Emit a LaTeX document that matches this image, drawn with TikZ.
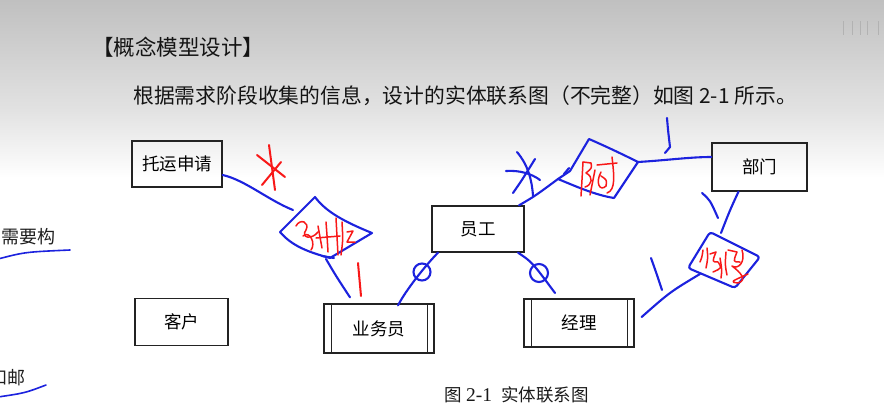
\documentclass[tikz,border=0pt]{standalone}
\usepackage{fontspec}
\setmainfont{Liberation Serif}
\newfontfamily\cjk{Noto Sans CJK SC}
\usetikzlibrary{calc}
\definecolor{bluepencol}{RGB}{28,34,222}
\definecolor{redpencol}{RGB}{248,24,24}
\definecolor{boxcol}{RGB}{35,35,35}
\tikzset{
  ent/.style={draw=boxcol, line width=1.3pt, inner sep=0pt,
    font=\cjk\fontsize{17.5}{20}\selectfont},
  boxline/.style={draw=boxcol, line width=1.3pt},
  bluepen/.style={draw=bluepencol, line width=2.1pt, line cap=round, line join=round},
  redpen/.style={draw=redpencol, line width=1.5pt, line cap=round, line join=round},
}
\begin{document}
\begin{tikzpicture}[x=1pt,y=-1pt]
\useasboundingbox (0,0) rectangle (884,405);
% background
\fill[white] (0,0) rectangle (884,405);
\shade[top color={rgb,255:red,192;green,192;blue,192}, bottom color={rgb,255:red,226;green,226;blue,226}] (0,0) rectangle (884,110);
\shade[top color={rgb,255:red,226;green,226;blue,226}, bottom color=white] (0,110) rectangle (884,178);
% faint marks top right
\foreach \xx in {843,852,860,867,878}
  \draw[draw={rgb,255:red,178;green,178;blue,178}, line width=0.8pt] (\xx,21) -- (\xx,35);

% texts
\node[anchor=west, inner sep=0pt, text={rgb,255:red,20;green,20;blue,20}, font=\cjk\fontsize{21.5}{24}\selectfont] (title) at (92,47) {【概念模型设计】};
\node[anchor=west, inner sep=0pt, text={rgb,255:red,20;green,20;blue,20}, font=\cjk\fontsize{20.8}{24}\selectfont] (body) at (133,96) {根据需求阶段收集的信息，设计的实体联系图（不完整）如图 2-1 所示。};
\node[anchor=west, inner sep=0pt, text={rgb,255:red,25;green,25;blue,25}, font=\cjk\fontsize{17.5}{20}\selectfont] (cap) at (444,395) {图\hspace{4.5pt}{\rmfamily\fontsize{19.5}{20}\selectfont 2-1}\hspace{9pt}实体联系图};
\node[anchor=east, inner sep=0pt, text={rgb,255:red,30;green,30;blue,30}, font=\cjk\fontsize{18}{20}\selectfont] (lt1) at (56,237) {需要构};
\node[anchor=east, inner sep=0pt, text={rgb,255:red,30;green,30;blue,30}, font=\cjk\fontsize{18}{20}\selectfont] (lt2) at (26,378) {和邮};
\draw[bluepen, line width=1.6pt] (-2,259) .. controls (25,252) .. (70,250);
\draw[bluepen, line width=1.6pt] (-2,397) .. controls (25,393) .. (46,385);

% entity boxes
\node[ent, minimum width=90pt, minimum height=46pt] (tuoyun) at (177,164) {托运申请};
\node[ent, minimum width=93pt, minimum height=47pt] (kehu) at (181.5,322) {客户};
\node[ent, minimum width=110pt, minimum height=49pt] (yewu) at (379,328.5) {业务员};
\node[ent, minimum width=110pt, minimum height=48pt] (jingli) at (579,323) {经理};
\node[ent, minimum width=92pt, minimum height=46pt] (yuangong) at (478,229) {员工};
\node[ent, minimum width=95pt, minimum height=48pt] (bumen) at (759.5,167) {部门};
\foreach \n in {yewu,jingli}{
  \draw[boxline] ([xshift=8pt]\n.north west) -- ([xshift=8pt]\n.south west);
  \draw[boxline] ([xshift=-7pt]\n.north east) -- ([xshift=-7pt]\n.south east);
}

% diamond coordinates
\coordinate (d1l) at (280,232); \coordinate (d1t) at (315,197);
\coordinate (d1r) at (372,233); \coordinate (d1b) at (330,258);
\coordinate (d2l) at (558,179); \coordinate (d2t) at (589,139);
\coordinate (d2r) at (638,162); \coordinate (d2b) at (614,198);
\coordinate (d3t) at (710,232); \coordinate (d3r) at (760,257);
\coordinate (d3b) at (735,288); \coordinate (d3l) at (688,268);

% diamond 1
\draw[bluepen] (d1l) -- (d1t) .. controls (326,212) and (345,222) .. (d1r) -- (d1b)
  .. controls (308,252) and (292,246) .. cycle;
\draw[bluepen] ([yshift=-11pt]tuoyun.east) .. controls (245,180) and (268,200) .. (293,210);
\draw[bluepen] (322,256) -- (334,258);
\draw[bluepen] (326,259) .. controls (336,276) .. ([xshift=-29pt,yshift=6pt]yewu.north);
\draw[redpen, line width=2pt] (358,263) .. controls (360,280) .. (361,296);
% red asterisk
\draw[redpen, line width=2pt] (257,155) -- (285,177);
\draw[redpen, line width=2pt] (269,145) -- (275,190);
\draw[redpen, line width=2pt] (262,185) -- (281,162);
% red scribble 1
\draw[redpen] (296,226) .. controls (300,218) and (310,222) .. (306,230) .. controls (300,238) and (312,240) .. (318,232);
\draw[redpen] (303,236) .. controls (310,230) and (316,244) .. (311,250);
\draw[redpen] (318,226) -- (322,248);
\draw[redpen] (326,222) .. controls (327,235) .. (328,252);
\draw[redpen] (316,238) -- (340,236);
\draw[redpen] (336,218) -- (338,255);
\draw[redpen] (342,222) .. controls (343,240) .. (341,255);
\draw[redpen] (347,232) -- (353,231) -- (347,242) -- (355,242);

% yewu -- yuangong with circle
\draw[bluepen] ([xshift=19pt,yshift=-2pt]yewu.north) .. controls (406,290) and (425,266) .. ([xshift=-40pt]yuangong.south);
\draw[bluepen] (422,272) circle[radius=8.5pt];
% yuangong -- jingli side circle
\draw[bluepen] ([xshift=40pt]yuangong.south) .. controls (532,262) .. (555,293);
\draw[bluepen] (539,273) circle[radius=9pt];

% yuangong -- diamond 2
\draw[bluepen] ([xshift=41pt]yuangong.north) .. controls (535,196) .. (d2l);
\draw[bluepen] (517,152) .. controls (528,165) and (532,180) .. (533,196);
\draw[bluepen] (506,171) .. controls (520,170) and (532,174) .. (540,180);
\draw[bluepen] (513,193) .. controls (522,180) .. (535,159);
% diamond 2
\draw[bluepen] (d2l) -- (570,171) -- (d2t) .. controls (605,146) and (620,153) .. (d2r) -- (d2b)
  .. controls (595,195) and (575,186) .. cycle;
\draw[bluepen] (564,174) -- (569,168);
\draw[bluepen] (d2r) .. controls (670,160) and (690,157) .. ([yshift=10pt]bumen.west);
\draw[bluepen] (667,118) .. controls (668,130) .. (670,147) -- (665,153);
% red scribble 2
\draw[redpen] (583,162) .. controls (582,180) .. (581,196);
\draw[redpen] (583,162) -- (591,163) .. controls (592,168) .. (586,173) .. controls (594,177) and (592,185) .. (585,187);
\draw[redpen] (597,165) -- (617,163);
\draw[redpen] (612,157) .. controls (614,175) and (616,190) .. (607,193);
\draw[redpen] (601,172) .. controls (595,183) and (600,192) .. (606,186) .. controls (607,180) .. (601,176);
\draw[redpen] (595,170) .. controls (592,182) .. (590,195);

% bumen -- diamond 3 -- jingli
\draw[bluepen] ([xshift=-21pt]bumen.south) .. controls (730,210) .. (721,233);
\draw[bluepen] (702,193) .. controls (710,200) .. (718,218);
\draw[bluepen, rounded corners=3pt] (d3t) -- (d3r) -- (d3b) -- (d3l) -- cycle;
\draw[bluepen] (700,274) .. controls (670,292) .. ([xshift=7pt,yshift=6pt]jingli.east);
\draw[bluepen] (651,258) .. controls (656,272) .. (662,290);
% red scribble 3
\draw[redpen] (703,250) .. controls (702,257) .. (700,262);
\draw[redpen] (707,248) .. controls (708,258) .. (706,268);
\draw[redpen] (710,254) -- (716,252) .. controls (712,262) .. (718,262) .. controls (722,268) .. (713,272);
\draw[redpen] (720,258) .. controls (722,270) .. (721,278);
\draw[redpen] (726,252) .. controls (725,265) .. (727,275);
\draw[redpen] (728,250) -- (737,252) .. controls (733,262) .. (740,262);
\draw[redpen] (742,250) .. controls (746,262) and (738,270) .. (732,266) .. controls (740,272) and (748,280) .. (738,283) .. controls (730,282) .. (748,274);
\end{tikzpicture}
\end{document}
